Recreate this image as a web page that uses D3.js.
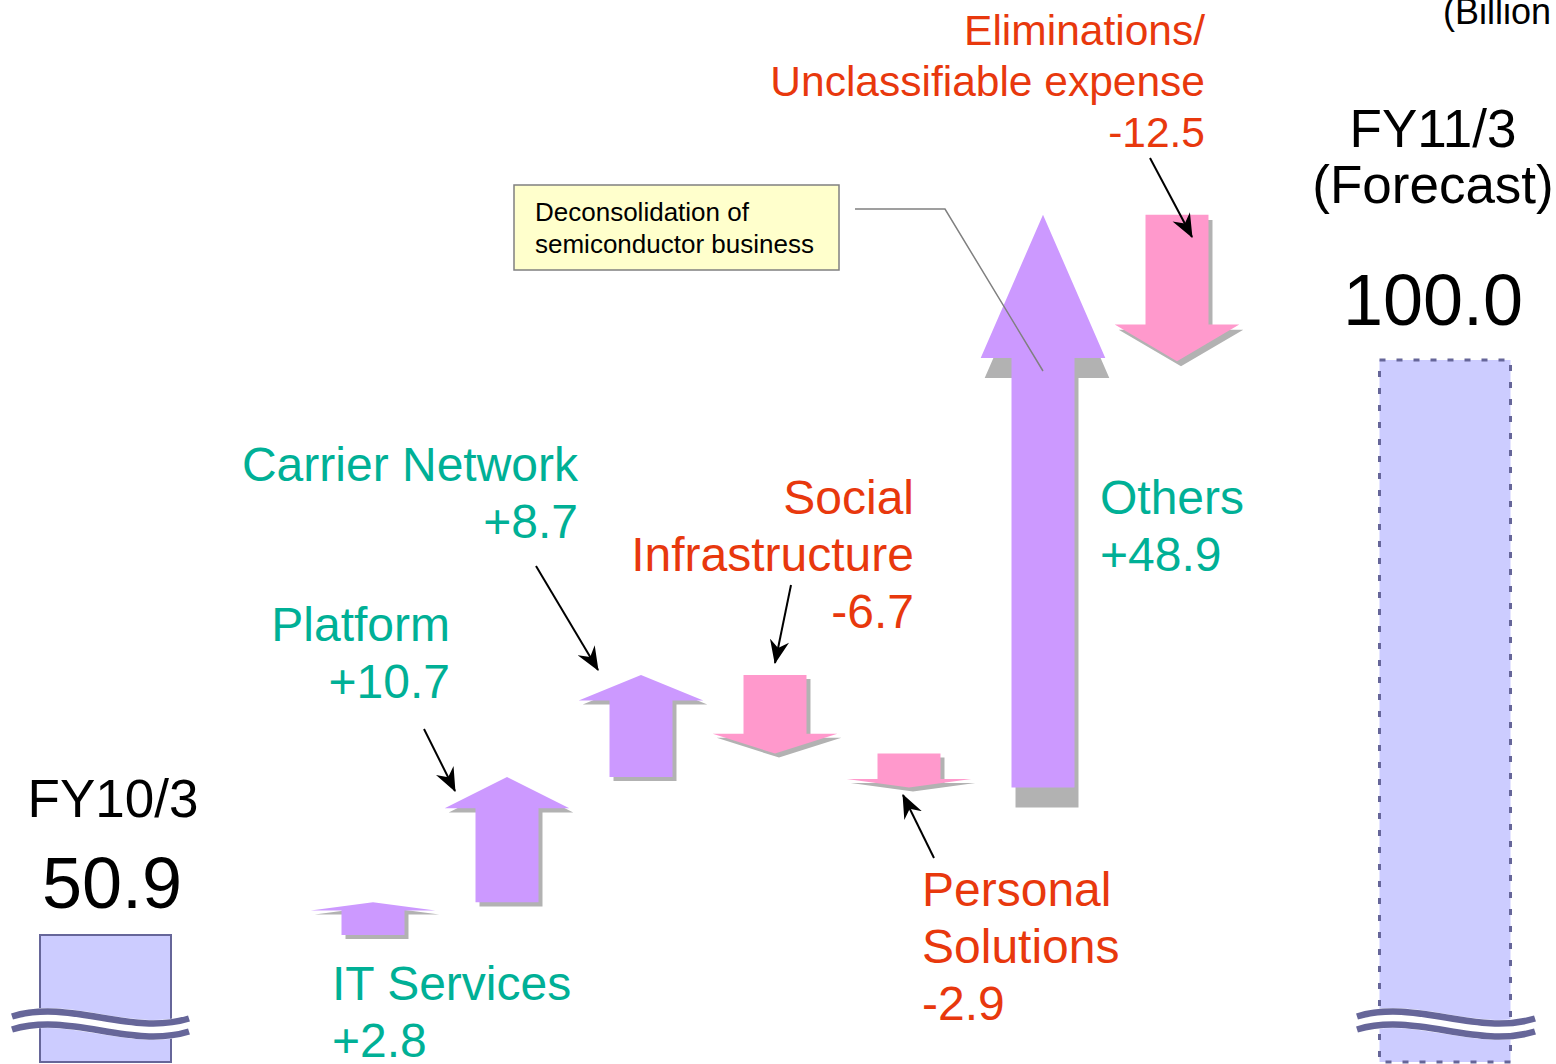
<!DOCTYPE html>
<html>
<head>
<meta charset="utf-8">
<script src="https://cdn.jsdelivr.net/npm/d3@7"></script>
<style>
  html, body { margin: 0; padding: 0; background: #fff; overflow: hidden; }
  text { font-family: 'Liberation Sans', Arial, sans-serif; }
</style>
</head>
<body>
<script>
// operating income bridge, FY10/3 -> FY11/3 (billion yen)
const startLabel = ['FY10/3'];
const startValue = 50.9;
const endLabel   = ['FY11/3', '(Forecast)'];
const endValue   = 100.0;

const categories = ['IT Services', 'Platform', 'Carrier Network', 'Social Infrastructure',
                    'Personal Solutions', 'Others', 'Eliminations/Unclassifiable expense'];
const labelLines = [['IT Services'], ['Platform'], ['Carrier Network'], ['Social', 'Infrastructure'],
                    ['Personal', 'Solutions'], ['Others'], ['Eliminations/', 'Unclassifiable expense']];
const changes    = [2.8, 10.7, 8.7, -6.7, -2.9, 48.9, -12.5];

const unitLabel = '(Billion yen)';
const noteLines = ['Deconsolidation of', 'semiconductor business'];

const W = 1556, H = 1064;
const GREEN = '#00b096', RED = '#e8380d';
const UP = '#cc99ff', DOWN = '#ff99cc', SHADOW = '#b2b2b2';
const BAR = '#ccccff', BAR_EDGE = '#666699';

// label placement (anchor side, x, first baseline)
const labelLayout = [
  { anchor: 'start', x: 332,  y: 1000, size: 48, lh: 57 },
  { anchor: 'end',   x: 450,  y: 641,  size: 48, lh: 57 },
  { anchor: 'end',   x: 578,  y: 481,  size: 48, lh: 57 },
  { anchor: 'end',   x: 914,  y: 514,  size: 48, lh: 57 },
  { anchor: 'start', x: 922,  y: 906,  size: 48, lh: 57 },
  { anchor: 'start', x: 1100, y: 514,  size: 48, lh: 57 },
  { anchor: 'end',   x: 1205, y: 45,   size: 42.5, lh: 51 }
];

// black pointer lines from labels to arrows
const pointers = [
  [[424, 729], [455, 791]],
  [[536, 566], [598, 670]],
  [[791, 585], [775, 663]],
  [[934, 858], [903, 795]],
  [[1150, 158], [1192, 237]]
];

const fmt = d3.formatLocale({ decimal: '.', thousands: ',', grouping: [3], currency: ['', ''], minus: '-' });
const signed = fmt.format('+.1f');

const svg = d3.select('body').append('svg')
    .attr('width', W)
    .attr('height', H);

// slots: start bar, gap, 7 changes, gap, end bar
const slots = ['start', 'gap1', ...categories, 'gap2', 'end'];
const x = d3.scaleBand().domain(slots).range([38, 1512]).padding(0);
const bw = x.bandwidth();
const cx = (k) => x(k) + bw / 2;

const y = d3.scaleLinear().domain([startValue, endValue]).range([935, 360]);

// waterfall steps
let run = startValue;
const steps = categories.map((c, i) => {
  const from = run;
  run += changes[i];
  return { cat: c, from, to: run, delta: changes[i], i };
});

// arrow polygon
const arrowPath = (d, dx = 0, dy = 0) => {
  const c = cx(d.cat) + dx;
  const y0 = y(d.from) + dy, y1 = y(d.to) + dy;
  const dir = y1 < y0 ? 1 : -1;          // 1 = up
  const head = Math.abs(y0 - y1) * 0.25;
  const sw = bw * 0.235, hw = bw * 0.465;
  const yb = y1 + dir * head;
  return d3.line()([
    [c - sw, y0], [c - sw, yb], [c - hw, yb], [c, y1],
    [c + hw, yb], [c + sw, yb], [c + sw, y0]
  ]) + 'Z';
};

const shadowDy = (d) => Math.max(4, Math.abs(y(d.from) - y(d.to)) * 0.035);

// start / end bars
const bottom = H - 2;
svg.append('rect')
    .attr('x', x('start') + 2)
    .attr('y', y(startValue))
    .attr('width', bw - 3)
    .attr('height', bottom - y(startValue))
    .attr('fill', BAR)
    .attr('stroke', BAR_EDGE)
    .attr('stroke-width', 2);

svg.append('rect')
    .attr('x', x('end') + 1.5)
    .attr('y', y(endValue))
    .attr('width', bw - 3)
    .attr('height', bottom - y(endValue))
    .attr('fill', BAR)
    .attr('stroke', BAR_EDGE)
    .attr('stroke-width', 3)
    .attr('stroke-dasharray', '6,11');

// axis break marks
const yc = 1023;
const wave = (x0, x1, off) => {
  const w = x1 - x0;
  return `M${x0},${yc + off} C${x0 + w * 0.33},${yc + off - 18} ${x0 + w * 0.67},${yc + off + 20} ${x1},${yc + off + 2}`;
};
[['start', -26, 17], ['end', -21, 23]].forEach(([k, l, r]) => {
  const x0 = x(k) + l, x1 = x(k) + bw + r;
  svg.append('path').attr('d', wave(x0, x1, 0))
      .attr('fill', 'none').attr('stroke', '#fff').attr('stroke-width', 20);
  [-6.5, 6.5].forEach((o) => {
    svg.append('path').attr('d', wave(x0, x1, o))
        .attr('fill', 'none').attr('stroke', BAR_EDGE).attr('stroke-width', 6.5);
  });
});

// arrows with drop shadow
const arrows = svg.append('g').attr('id', 'arrows');
arrows.selectAll('path.shadow')
    .data(steps)
  .enter()
  .append('path')
    .attr('class', 'shadow')
    .attr('d', (d) => arrowPath(d, 4, shadowDy(d)))
    .attr('fill', SHADOW);

arrows.selectAll('path.arrow')
    .data(steps)
  .enter()
  .append('path')
    .attr('class', 'arrow')
    .attr('d', (d) => arrowPath(d))
    .attr('fill', (d) => d.delta >= 0 ? UP : DOWN);

// category labels
const labels = svg.append('g').attr('id', 'labels');
steps.forEach((d) => {
  const L = labelLayout[d.i];
  const lines = [...labelLines[d.i], signed(d.delta)];
  labels.append('text')
      .attr('text-anchor', L.anchor)
      .attr('font-size', L.size)
      .attr('fill', d.delta >= 0 ? GREEN : RED)
    .selectAll('tspan')
      .data(lines)
    .enter()
    .append('tspan')
      .attr('x', L.x)
      .attr('y', (t, j) => L.y + j * L.lh)
      .text((t) => t);
});

// start / end labels
const yearText = (k, lines, y0, dx) => {
  svg.append('text')
      .attr('text-anchor', 'middle')
      .attr('font-size', 53)
    .selectAll('tspan')
      .data(lines)
    .enter()
    .append('tspan')
      .attr('x', cx(k) + dx)
      .attr('y', (t, j) => y0 + j * 56)
      .text((t) => t);
};
yearText('start', startLabel, 817, 8);
yearText('end', endLabel, 147, -12);

svg.append('text')
    .attr('x', cx('start') + 7)
    .attr('y', 908)
    .attr('text-anchor', 'middle')
    .attr('font-size', 72)
    .text(startValue.toFixed(1));

svg.append('text')
    .attr('x', cx('end') - 12)
    .attr('y', 325)
    .attr('text-anchor', 'middle')
    .attr('font-size', 72)
    .text(endValue.toFixed(1));

// unit note, runs off the right edge as in the original slide
svg.append('text')
    .attr('x', 1443)
    .attr('y', 24)
    .attr('font-size', 36)
    .text(unitLabel);

// note box + connector into the Others arrow
svg.append('path')
    .attr('d', `M855,209 L945,209 L${cx('Others')},371`)
    .attr('fill', 'none')
    .attr('stroke', '#808080')
    .attr('stroke-width', 1.5);

svg.append('rect')
    .attr('x', 514)
    .attr('y', 185)
    .attr('width', 325)
    .attr('height', 85)
    .attr('fill', '#ffffcc')
    .attr('stroke', '#808080')
    .attr('stroke-width', 1.5);

svg.append('text')
    .attr('font-size', 26)
  .selectAll('tspan')
    .data(noteLines)
  .enter()
  .append('tspan')
    .attr('x', 535)
    .attr('y', (t, j) => 221 + j * 32)
    .text((t) => t);

// pointer arrows
svg.append('defs')
  .append('marker')
    .attr('id', 'tip')
    .attr('viewBox', '0 0 22 18')
    .attr('refX', 21)
    .attr('refY', 9)
    .attr('markerWidth', 24)
    .attr('markerHeight', 20)
    .attr('markerUnits', 'userSpaceOnUse')
    .attr('orient', 'auto')
  .append('path')
    .attr('d', 'M0,0 L22,9 L0,18 L7,9 Z')
    .attr('fill', '#000');

svg.append('g')
    .attr('id', 'pointers')
  .selectAll('line')
    .data(pointers)
  .enter()
  .append('line')
    .attr('x1', (p) => p[0][0])
    .attr('y1', (p) => p[0][1])
    .attr('x2', (p) => p[1][0])
    .attr('y2', (p) => p[1][1])
    .attr('stroke', '#000')
    .attr('stroke-width', 2)
    .attr('marker-end', 'url(#tip)');
</script>
</body>
</html>
